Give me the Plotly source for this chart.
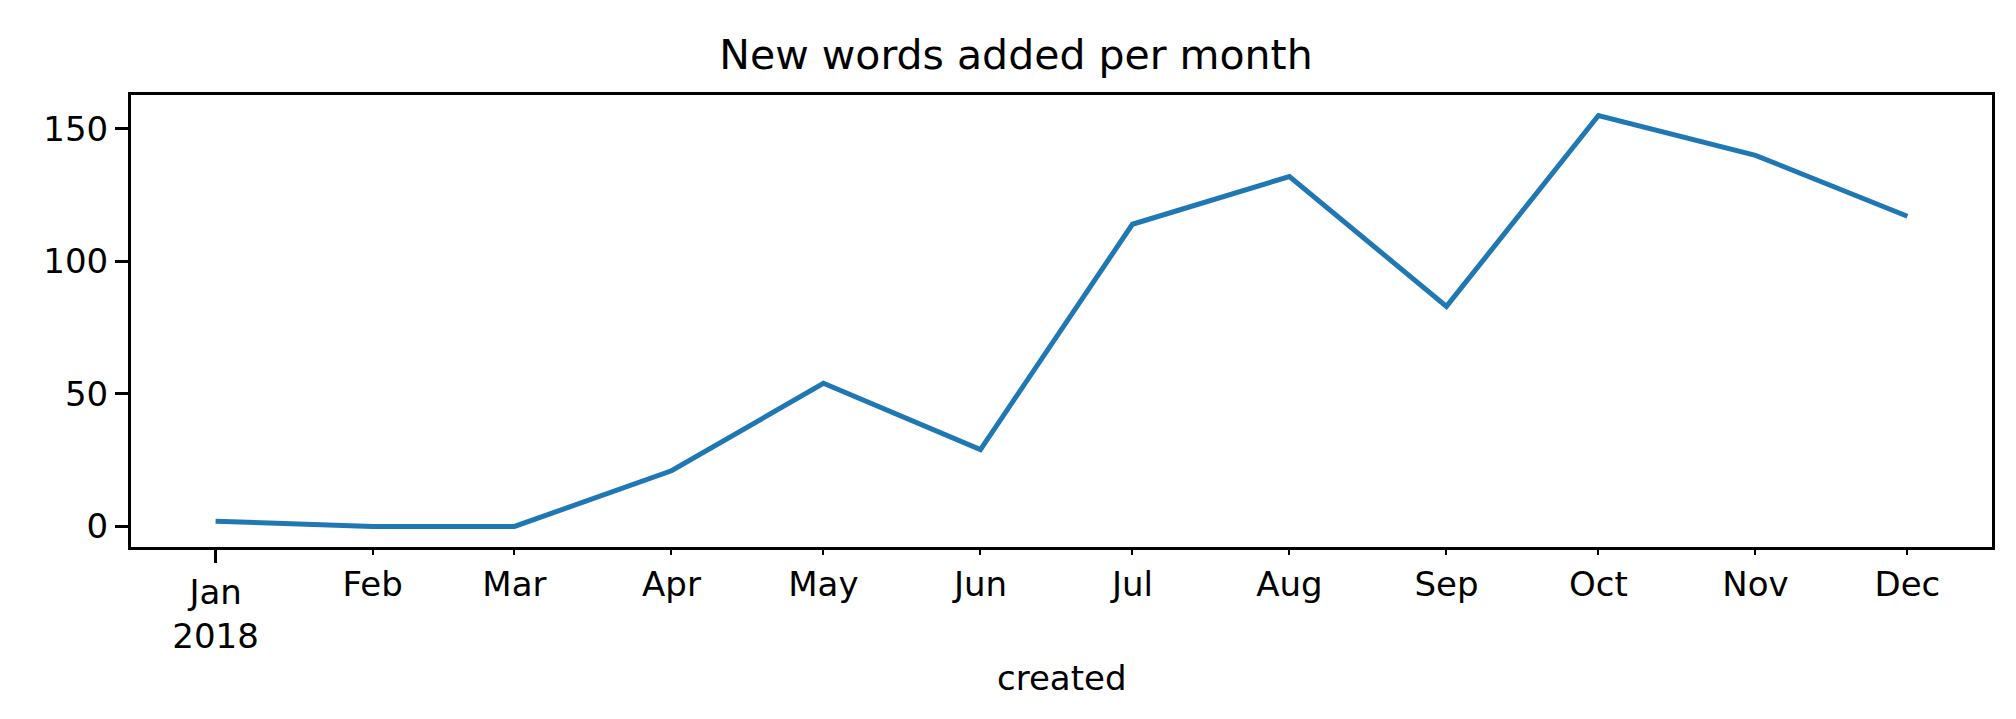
import plotly.graph_objects as go

# months of 2018 and words added in each
months = ["2018-01-01", "2018-02-01", "2018-03-01", "2018-04-01", "2018-05-01", "2018-06-01",
          "2018-07-01", "2018-08-01", "2018-09-01", "2018-10-01", "2018-11-01", "2018-12-01"]
new_words = [2, 0, 0, 21, 54, 29, 114, 132, 83, 155, 140, 117]
month_labels = ["Jan<br>2018", "Feb", "Mar", "Apr", "May", "Jun",
                "Jul", "Aug", "Sep", "Oct", "Nov", "Dec"]
y_ticks = [0, 50, 100, 150]

font = "DejaVu Sans, Arial, sans-serif"
x_range = ["2017-12-15 07:12", "2018-12-17 16:48"]

fig = go.Figure()
fig.add_trace(go.Scatter(x=months, y=new_words, mode="lines",
                         line=dict(color="#1f77b4", width=5), hoverinfo="x+y"))
# same data on the overlaid axis, invisible, so that axis gets drawn
fig.add_trace(go.Scatter(x=months, y=new_words, mode="lines", xaxis="x2",
                         line=dict(color="rgba(0,0,0,0)", width=0), hoverinfo="skip"))

fig.update_layout(
    width=2016, height=719,
    margin=dict(l=123, r=32, t=87, b=180),
    paper_bgcolor="white", plot_bgcolor="white",
    showlegend=False,
    font=dict(family=font, size=34, color="black"),
    title=dict(text="New words added per month", x=0.5, xanchor="center",
               y=1 - 47 / 719, yanchor="middle", font=dict(size=41)),
)

# major tick (Jan 2018) on the main x axis, long and thick
fig.update_layout(xaxis=dict(type="date", range=x_range,
                             tickvals=months[:1], ticktext=month_labels[:1],
                             showline=True, mirror=True, linecolor="black", linewidth=3,
                             showgrid=False, zeroline=False, ticks="outside", ticklen=13,
                             tickwidth=3, tickcolor="black"))

# minor monthly ticks with their labels on an overlaid axis
fig.update_layout(xaxis2=dict(type="date", range=x_range, overlaying="x", anchor="y",
                              side="bottom", tickvals=months[1:], ticktext=month_labels[1:],
                              showline=False, showgrid=False, zeroline=False,
                              ticks="outside", ticklen=7, tickwidth=2, tickcolor="black",
                              tickfont=dict(family=font, size=34, color="black")))

fig.update_layout(yaxis=dict(range=[-7.75, 162.75], tickvals=y_ticks,
                             showline=True, mirror=True, linecolor="black", linewidth=3,
                             showgrid=False, zeroline=False, ticks="outside", ticklen=13,
                             tickwidth=3, tickcolor="black"))

# x-axis title placed under the tick labels
fig.add_annotation(text="created", x=0.5, xref="paper", y=-0.29, yref="paper",
                   yanchor="middle", showarrow=False, font=dict(size=34))

fig.write_html("out.html")
